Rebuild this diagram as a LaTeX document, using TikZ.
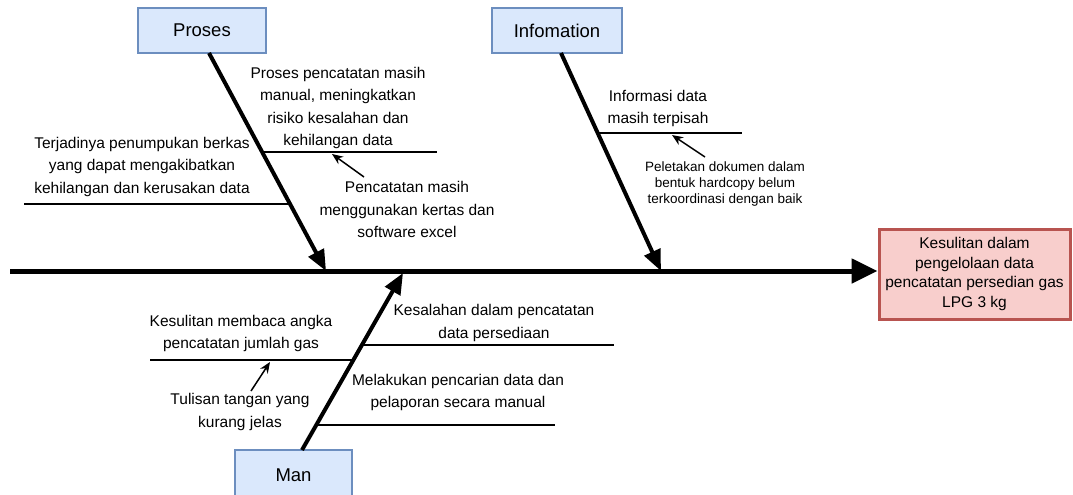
\documentclass[tikz,border=0pt]{standalone}
\usepackage{fontspec}
\setmainfont{Liberation Sans}
\usetikzlibrary{arrows.meta,calc}
\definecolor{catfill}{HTML}{DAE8FC}
\definecolor{catdraw}{HTML}{6C8EBF}
\definecolor{efffill}{HTML}{F8CECC}
\definecolor{effdraw}{HTML}{B85450}
\tikzset{
  catbox/.style={draw=catdraw,fill=catfill,line width=2pt,minimum width=128pt,minimum height=45pt,inner sep=0pt,font=\fontsize{18.5}{22}\selectfont},
  effbox/.style={draw=effdraw,fill=efffill,line width=3pt,minimum width=191pt,minimum height=90pt,align=center,inner sep=0pt,font=\fontsize{15.5}{19.5}\selectfont},
  spine/.style={line width=5pt,-{Triangle[length=26pt,width=24pt]}},
  bone/.style={line width=4pt,-{Triangle[length=21pt,width=17pt]}},
  sub/.style={line width=2.2pt},
  lbl/.style={align=center,inner sep=0pt,font=\fontsize{15.5}{22.5}\selectfont},
  small/.style={align=center,inner sep=0pt,font=\fontsize{13.5}{16}\selectfont},
  note/.style={line width=1.5pt,-{Stealth[length=11pt,width=9pt]}}
}
\begin{document}
\begin{tikzpicture}[x=1pt,y=-1pt]
\clip (0,0) rectangle (1073,495);
\fill[white] (0,0) rectangle (1073,495);
% boxes
\node[catbox] (proses) at (202,30.5) {Proses};
\node[catbox,minimum width=130pt] (info) at (557,30.5) {Infomation};
\node[catbox,minimum width=117pt,minimum height=50pt] (man) at (293.5,475) {Man};
\node[effbox] (effect) at (974.5,274) {Kesulitan dalam\\pengelolaan data\\pencatatan persedian gas\\LPG 3 kg};
% spine
\coordinate (spL) at (10,271);
\draw[spine] (spL) -- (effect.west |- spL);
% bone ends
\coordinate (pTop) at (209,53);
\coordinate (pEnd) at (326,271);
\coordinate (iTop) at (561,53);
\coordinate (iEnd) at (661,271);
\coordinate (mTop) at (302,450);
\coordinate (mEnd) at (403,273);
\draw[bone] (pTop) -- (pEnd);
\draw[bone] (iTop) -- (iEnd);
\draw[bone] (mTop) -- (mEnd);
% sub bones
\coordinate (p1) at ($(pTop)!0.454!(pEnd)$);
\coordinate (p1e) at (437,152);
\draw[sub] (p1) -- (p1e |- p1);
\coordinate (p2) at ($(pTop)!0.693!(pEnd)$);
\coordinate (p2e) at (24,204);
\draw[sub] (p2) -- (p2e |- p2);
\coordinate (i1) at ($(iTop)!0.367!(iEnd)$);
\coordinate (i1e) at (742,133);
\draw[sub] (i1) -- (i1e |- i1);
\coordinate (m1) at ($(mTop)!0.593!(mEnd)$);
\coordinate (m1e) at (614,345);
\draw[sub] (m1) -- (m1e |- m1);
\coordinate (m2) at ($(mTop)!0.508!(mEnd)$);
\coordinate (m2e) at (150,360);
\draw[sub] (m2) -- (m2e |- m2);
\coordinate (m3) at ($(mTop)!0.141!(mEnd)$);
\coordinate (m3e) at (555,425);
\draw[sub] (m3) -- (m3e |- m3);
% labels
\node[lbl] (lp1) at (338,108) {Proses pencatatan masih\\manual, meningkatkan\\risiko kesalahan dan\\kehilangan data};
\node[lbl] (lp2) at (407,209.5) {Pencatatan masih\\menggunakan kertas dan\\software excel};
\node[lbl] (lp3) at (142,166.5) {Terjadinya penumpukan berkas\\yang dapat mengakibatkan\\kehilangan dan kerusakan data};
\node[lbl] (li1) at (658,108.5) {Informasi data\\masih terpisah};
\node[small] (li2) at (725,184) {Peletakan dokumen dalam\\bentuk hardcopy belum\\terkoordinasi dengan baik};
\node[lbl] (lm1) at (494,323) {Kesalahan dalam pencatatan\\data persediaan};
\node[lbl] (lm2) at (458,392.5) {Melakukan pencarian data dan\\pelaporan secara manual};
\node[lbl] (lm3) at (241,333.5) {Kesulitan membaca angka\\pencatatan jumlah gas};
\node[lbl] (lm4) at (240,412) {Tulisan tangan yang\\kurang jelas};
% note arrows
\coordinate (a1s) at (364,177);
\coordinate (a1e) at (332,154);
\draw[note] (a1s) -- (a1e);
\coordinate (a2s) at (705,157);
\coordinate (a2e) at (672,135);
\draw[note] (a2s) -- (a2e);
\coordinate (a3s) at (251,391);
\coordinate (a3e) at (270,362);
\draw[note] (a3s) -- (a3e);
\end{tikzpicture}
\end{document}
